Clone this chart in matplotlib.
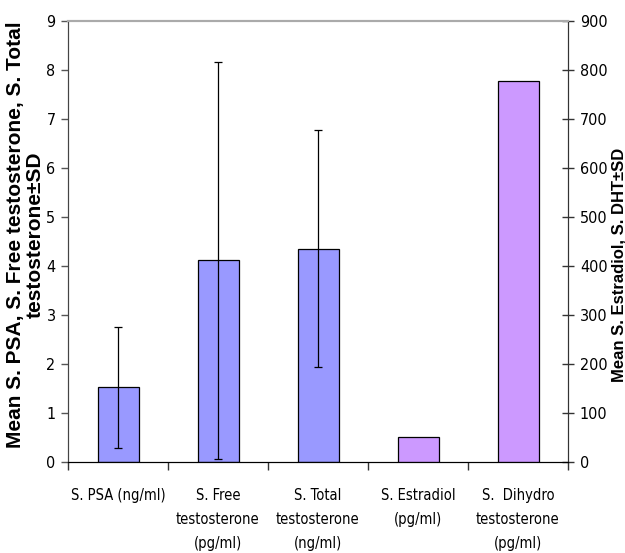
import matplotlib
matplotlib.use("Agg")
import matplotlib.pyplot as plt
from matplotlib import font_manager as fm
import numpy as np

cond_path = fm.findfont(fm.FontProperties(family="DejaVu Sans", stretch="condensed"))
HAS_COND = "Condensed" in cond_path
if HAS_COND:
    TFONT = dict(family=["DejaVu Sans", "Liberation Sans"], stretch="condensed")
else:
    TFONT = dict(family=["Liberation Sans", "DejaVu Sans"])
plt.rcParams['font.family'] = ['Liberation Sans', 'DejaVu Sans']

categories = ["S. PSA (ng/ml)", "S. Free\ntestosterone\n(pg/ml)", "S. Total\ntestosterone\n(ng/ml)",
              "S. Estradiol\n(pg/ml)", "S.  Dihydro\ntestosterone\n(pg/ml)"]
left_values = [1.52, 4.11, 4.35]
left_sd = [1.24, 4.05, 2.42]
right_values = [50, 778]

fig = plt.figure(figsize=(6.25, 5.53), dpi=100)
ax = fig.add_axes([68/625, 1-461.7/553, 500/625, (461.7-21)/553])
ax2 = ax.twinx()

x = np.arange(len(categories))
w = 0.41
ax.bar(x[:3], left_values, width=w, color="#9999FF", edgecolor="black", linewidth=0.9, zorder=2)
ax.errorbar(x[:3], left_values, yerr=left_sd, fmt="none", ecolor="black", elinewidth=0.9,
            capsize=3, capthick=0.9, zorder=3)
ax2.bar(x[3:], right_values, width=w, color="#CC99FF", edgecolor="black", linewidth=0.9, zorder=2)

ax.set_xlim(-0.5, 4.5)
ax.set_ylim(0, 9)
ax2.set_ylim(0, 900)
ax.set_yticks(range(0, 10))
ax2.set_yticks(range(0, 1000, 100))

ax.set_xticks(np.arange(-0.5, 5, 1.0))
ax.set_xticklabels([])
ax.set_xticks(x, minor=True)
ax.set_xticklabels(categories, minor=True, fontsize=10.5 if HAS_COND else 10, linespacing=1.75, **TFONT)
ax.tick_params(axis="x", which="minor", length=0, pad=19)
ax.tick_params(axis="x", which="major", length=6, direction="out", width=1, color="#333333")

ax.tick_params(axis="y", length=5, direction="out", pad=4, width=1, color="#555555")
ax2.tick_params(axis="y", length=9, direction="inout", pad=4, width=1, color="#333333")
for lab in ax.get_yticklabels() + ax2.get_yticklabels():
    lab.set_fontsize(11.5 if HAS_COND else 11)
    lab.set_family(TFONT["family"])
    if HAS_COND:
        lab.set_stretch("condensed")

for a in (ax, ax2):
    a.spines["top"].set_color("#aaaaaa")
    a.spines["top"].set_linewidth(1.5)
    a.spines["bottom"].set_color("black")
    a.spines["left"].set_color("#444444")
    a.spines["right"].set_color("#333333")

ax.set_ylabel("Mean S. PSA, S. Free testosterone, S. Total\ntestosterone±SD", fontsize=15,
              fontweight="bold", linespacing=1.05)
ax.yaxis.set_label_coords(-0.046, 0.514)
ax2.set_ylabel("Mean S. Estradiol, S. DHT±SD", fontsize=12, fontweight="bold")
ax2.yaxis.set_label_coords(1.086, 0.446)

fig.savefig("out.png", dpi=100)
